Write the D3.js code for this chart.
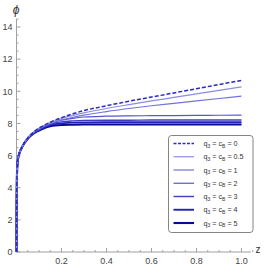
<!DOCTYPE html>
<html><head><meta charset="utf-8">
<script src="https://cdn.jsdelivr.net/npm/d3@7"></script>
<style>
html,body{margin:0;padding:0;background:#fff;}
svg{display:block;font-family:"Liberation Sans",Arial,sans-serif;}
</style></head>
<body><svg id="c" width="267" height="267"></svg>
<script>
const zValues = [0, 0.0005, 0.002, 0.005, 0.01, 0.02, 0.035, 0.05, 0.075, 0.1, 0.125, 0.15, 0.2, 0.25, 0.3, 0.4, 0.5, 0.6, 0.7, 0.8, 0.9, 1.0];
const seriesLabels = ["0", "0.5", "1", "2", "3", "4", "5"];
const phiQ0   = [0, 3.0, 4.8, 5.6, 6.0, 6.4, 6.8, 7.1, 7.45, 7.7, 7.9, 8.08, 8.36, 8.6, 8.8, 9.1, 9.38, 9.64, 9.9, 10.16, 10.42, 10.68];
const phiQ05  = [0, 3.0, 4.8, 5.6, 6.0, 6.4, 6.8, 7.1, 7.45, 7.7, 7.89, 8.05, 8.3, 8.5, 8.66, 8.93, 9.17, 9.4, 9.62, 9.84, 10.06, 10.28];
const phiQ1   = [0, 3.0, 4.8, 5.6, 6.0, 6.4, 6.8, 7.1, 7.44, 7.68, 7.86, 8.0, 8.22, 8.38, 8.52, 8.74, 8.93, 9.1, 9.25, 9.4, 9.55, 9.7];
const phiQ2   = [0, 3.0, 4.8, 5.6, 6.0, 6.4, 6.8, 7.09, 7.43, 7.65, 7.85, 8.0, 8.2, 8.32, 8.4, 8.45, 8.47, 8.48, 8.49, 8.5, 8.51, 8.52];
const phiQ3   = [0, 3.0, 4.8, 5.6, 6.0, 6.4, 6.79, 7.08, 7.41, 7.62, 7.8, 7.95, 8.1, 8.16, 8.19, 8.2, 8.2, 8.21, 8.21, 8.21, 8.21, 8.21];
const phiQ4   = [0, 3.0, 4.8, 5.6, 6.0, 6.4, 6.78, 7.07, 7.39, 7.6, 7.77, 7.9, 8.0, 8.05, 8.06, 8.07, 8.07, 8.07, 8.07, 8.07, 8.07, 8.07];
const phiQ5   = [0, 3.0, 4.8, 5.6, 6.0, 6.39, 6.77, 7.05, 7.36, 7.56, 7.72, 7.82, 7.9, 7.92, 7.93, 7.93, 7.93, 7.93, 7.93, 7.93, 7.93, 7.93];
const seriesValues = [phiQ0, phiQ05, phiQ1, phiQ2, phiQ3, phiQ4, phiQ5];
const xTicks = [0.2, 0.4, 0.6, 0.8, 1.0];
const yTicks = [0, 2, 4, 6, 8, 10, 12, 14];

const colors = ["#2a2ac2", "#8c8ce6", "#7272dc", "#5757d0", "#3c3cc4", "#2222b2", "#0a0a98"];
const widths = [1.5, 1.2, 1.2, 1.2, 1.4, 1.9, 2.1];

const svg = d3.select("#c");
const x = d3.scaleLinear().domain([0, 1]).range([16.5, 241.5]);
const y = d3.scaleLinear().domain([0, 14]).range([252, 27]);

const axisColor = "#a0a0a0";
const textColor = "#444";

// minor ticks
const xMinor = d3.range(0, 1.0501, 0.05).filter(v => !xTicks.some(t => Math.abs(t - v) < 1e-6) && v > 0.001);
const yMinor = d3.range(0, 14.51, 0.5).filter(v => Math.abs(v % 2) > 1e-6);

const gx = svg.append("g");
gx.append("line").attr("x1", x(0)).attr("x2", 251).attr("y1", y(0)).attr("y2", y(0)).attr("stroke", axisColor).attr("stroke-width", 1);
gx.selectAll(".mj").data(xTicks).join("line").attr("x1", d => x(d)).attr("x2", d => x(d)).attr("y1", y(0)).attr("y2", y(0) - 4).attr("stroke", axisColor);
gx.selectAll(".mn").data(xMinor).join("line").attr("class", "mn").attr("x1", d => x(d)).attr("x2", d => x(d)).attr("y1", y(0)).attr("y2", y(0) - 2).attr("stroke", axisColor);
gx.selectAll("text").data(xTicks).join("text").attr("x", d => x(d)).attr("y", 263.5).attr("text-anchor", "middle")
  .attr("font-size", 9).attr("fill", textColor).text(d => d3.format(".1f")(d));

const gy = svg.append("g");
gy.append("line").attr("x1", x(0)).attr("x2", x(0)).attr("y1", y(0)).attr("y2", 19).attr("stroke", axisColor);
gy.selectAll(".mj").data(yTicks).join("line").attr("x1", x(0)).attr("x2", x(0) + 4).attr("y1", d => y(d)).attr("y2", d => y(d)).attr("stroke", axisColor);
gy.selectAll(".mn").data(yMinor).join("line").attr("class", "mn").attr("x1", x(0)).attr("x2", x(0) + 2).attr("y1", d => y(d)).attr("y2", d => y(d)).attr("stroke", axisColor);
gy.selectAll("text").data(yTicks).join("text").attr("x", 12.5).attr("y", d => y(d) + 3.3).attr("text-anchor", "end")
  .attr("font-size", 9).attr("fill", textColor).text(d => d);

svg.append("text").attr("x", 16).attr("y", 14).attr("text-anchor", "middle").attr("font-size", 12)
  .attr("font-style", "italic").attr("fill", "#333").text("ϕ");
svg.append("text").attr("x", 258).attr("y", 253).attr("text-anchor", "middle").attr("font-size", 10)
  .attr("fill", "#333").text("z");

const line = d3.line().x((d, i) => x(zValues[i])).y(d => y(d)).curve(d3.curveMonotoneX);
const order = [6, 5, 4, 3, 2, 1, 0];
order.forEach(k => {
  svg.append("path").attr("d", line(seriesValues[k])).attr("fill", "none")
    .attr("stroke", colors[k]).attr("stroke-width", widths[k])
    .attr("stroke-dasharray", k === 0 ? "4,2" : null);
});

// legend
const lg = svg.append("g");
lg.append("rect").attr("x", 168.5).attr("y", 135.5).attr("width", 84.5).attr("height", 97).attr("rx", 3)
  .attr("fill", "#fff").attr("stroke", "#666").attr("stroke-width", 0.8);
seriesLabels.forEach((lab, i) => {
  const yy = 143.5 + i * 13.25;
  lg.append("line").attr("x1", 173.5).attr("x2", 194).attr("y1", yy).attr("y2", yy)
    .attr("stroke", colors[i]).attr("stroke-width", i === 0 ? 1.3 : widths[i])
    .attr("stroke-dasharray", i === 0 ? "3,1.5" : null);
  const t = lg.append("text").attr("x", 203.5).attr("y", yy + 2.6).attr("font-size", 7.2).attr("fill", "#333");
  t.append("tspan").text("q");
  t.append("tspan").attr("font-size", 5).attr("dy", 1.5).text("3");
  t.append("tspan").attr("dy", -1.5).text(" = c");
  t.append("tspan").attr("font-size", 5).attr("dy", 1.5).text("B");
  t.append("tspan").attr("dy", -1.5).text(" = " + lab);
});
</script></body></html>
